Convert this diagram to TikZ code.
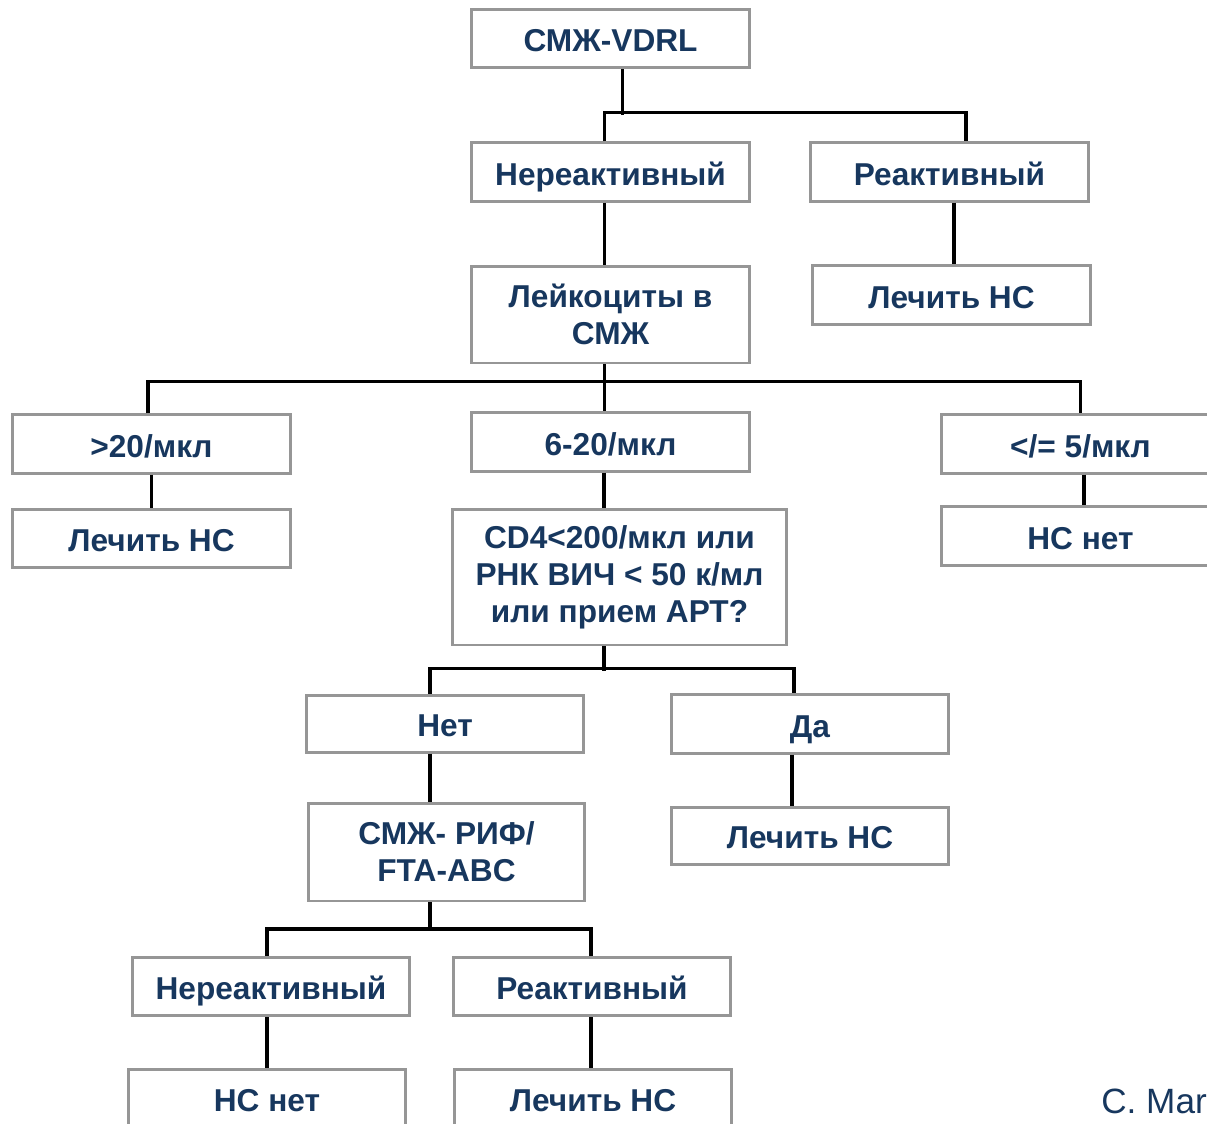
\documentclass[tikz,border=0pt]{standalone}
\usepackage{fontspec}
\setmainfont{Liberation Sans}
\usetikzlibrary{positioning}
\definecolor{txtblue}{RGB}{23,55,94}
\definecolor{boxgray}{RGB}{150,150,150}
\begin{document}
\begin{tikzpicture}[x=0.02cm,y=-0.02cm,
    box/.style={rectangle,draw=boxgray,line width=1.7pt,fill=white,text=txtblue,
      font=\fontsize{18}{21}\selectfont\bfseries,align=center,
      text height=15pt,text depth=0pt,
      minimum width=5.58cm,minimum height=1.17cm,inner sep=2pt},
    multi/.style={text height=,text depth=},
    link/.style={draw=black,line width=2pt}]
  \useasboundingbox (0,0) rectangle (1207,1123);
  \clip (0,0) rectangle (1207,1123);

  % boxes
  \node[box] (vdrl) at (610.5,38.5) {СМЖ-VDRL};
  \node[box] (neg1) at (610.5,172) {Нереактивный};
  \node[box] (pos1) at (949.5,172) {Реактивный};
  \node[box,multi,minimum height=1.94cm] (leuk) at (610.5,314.5) {Лейкоциты в\\СМЖ};
  \node[box] (treat1) at (951.5,295) {Лечить НС};
  \node[box] (hi) at (151.5,444) {>20/мкл};
  \node[box] (mid) at (610.5,442) {6-20/мкл};
  \node[box] (low) at (1080.5,444) {</= 5/мкл};
  \node[box] (treat2) at (151.5,538.5) {Лечить НС};
  \node[box,multi,minimum width=6.7cm,minimum height=2.72cm] (cd4) at (619.5,577)
    {CD4<200/мкл или\\РНК ВИЧ < 50 к/мл\\или прием АРТ?};
  \node[box] (none1) at (1080.5,536) {НС нет};
  \node[box,minimum width=5.56cm,minimum height=1.14cm] (no) at (445,723.5) {Нет};
  \node[box,minimum width=5.56cm] (yes) at (810,724) {Да};
  \node[box,multi,minimum width=5.54cm,minimum height=1.96cm] (rif) at (446.5,852) {СМЖ- РИФ/\\FTA-ABC};
  \node[box,minimum width=5.56cm,minimum height=1.14cm] (treat3) at (810,835.5) {Лечить НС};
  \node[box,minimum width=5.56cm] (neg2) at (271,986.5) {Нереактивный};
  \node[box,minimum width=5.56cm] (pos2) at (592,986.5) {Реактивный};
  \node[box,minimum width=5.56cm] (none2) at (267,1098.5) {НС нет};
  \node[box,minimum width=5.56cm] (treat4) at (593,1098.5) {Лечить НС};

  % connectors
  \draw[link] ([xshift=.24cm]vdrl.south) -- ++(0,46);
  \draw[link] ([xshift=-.12cm]neg1.north) -- ++(0,-29) -| ([xshift=.33cm]pos1.north);
  \draw[link] ([xshift=-.12cm]neg1.south) -- ([xshift=-.12cm]leuk.north);
  \draw[link] ([xshift=.09cm]pos1.south) -- ([xshift=.09cm]pos1.south |- treat1.north);
  \draw[link] ([xshift=-.12cm]leuk.south) -- ([xshift=-.12cm]mid.north);
  \draw[link] ([xshift=-.07cm]hi.north) -- ++(0,-32) -| (low.north);
  \draw[link] (hi.south) -- (treat2.north);
  \draw[link] ([xshift=-.13cm]mid.south) -- ([xshift=-.13cm]mid.south |- cd4.north);
  \draw[link] ([xshift=.07cm]low.south) -- ([xshift=.07cm]low.south |- none1.north);
  \draw[link] ([xshift=-.31cm]cd4.south) -- ++(0,25);
  \draw[link] ([xshift=-.3cm]no.north) -- ++(0,-25) -| ([xshift=-.32cm]yes.north);
  \draw[link] ([xshift=-.3cm]no.south) -- ([xshift=-.3cm]no.south |- rif.north);
  \draw[link] ([xshift=-.36cm]yes.south) -- ([xshift=-.36cm]yes.south |- treat3.north);
  \draw[link] ([xshift=-.33cm]rif.south) -- ++(0,29);
  \draw[link] ([xshift=-.08cm]neg2.north) -- ++(0,-27) -| ([xshift=-.02cm]pos2.north);
  \draw[link] ([xshift=-.08cm]neg2.south) -- ([xshift=-.08cm]neg2.south |- none2.north);
  \draw[link] ([xshift=-.02cm]pos2.south) -- ([xshift=-.02cm]pos2.south |- treat4.north);

  \node[anchor=base west,text=txtblue,font=\fontsize{20}{23}\selectfont,inner sep=0pt]
    (credit) at (1101,1113) {C. Mar};
\end{tikzpicture}
\end{document}
